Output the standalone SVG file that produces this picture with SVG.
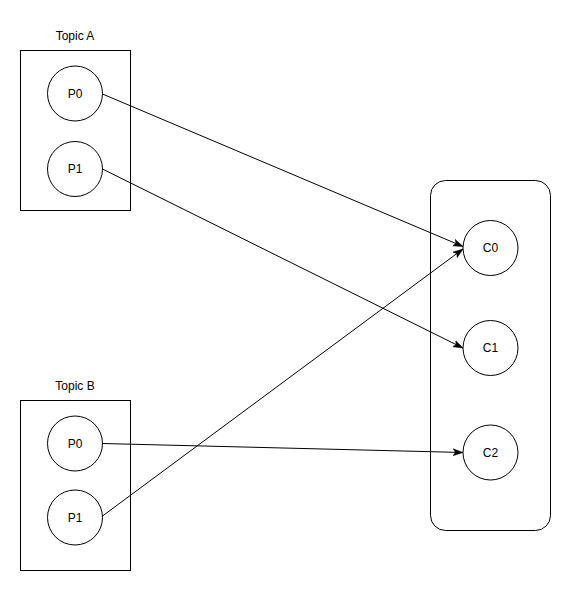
<svg xmlns="http://www.w3.org/2000/svg" width="571" height="591" viewBox="0 0 571 591">
<style>
.box{fill:#fff;stroke:#000;stroke-width:1}
.node{fill:#fff;stroke:#000;stroke-width:1}
.lbl{font-family:"Liberation Sans",Arial,sans-serif;font-size:12px;fill:#000;text-anchor:middle}
.edge{fill:none;stroke:#000;stroke-width:1}
</style>
<defs>
<marker id="arr" markerWidth="10" markerHeight="8" refX="10" refY="4" orient="auto" markerUnits="userSpaceOnUse">
<path d="M0,0.5 L10,4 L0,7.5 L2.5,4 z" fill="#000" stroke="#000" stroke-width="0.5"/>
</marker>
</defs>
<rect width="571" height="591" fill="#fff"/>
<g id="topicA">
<rect class="box" x="20.5" y="50.5" width="110" height="160"/>
<text class="lbl" x="75" y="40">Topic A</text>
</g>
<g id="topicA-P0">
<circle class="node" cx="75" cy="93.5" r="27.5"/>
<text class="lbl" x="75" y="97.5">P0</text>
</g>
<g id="topicA-P1">
<circle class="node" cx="75" cy="169" r="27.5"/>
<text class="lbl" x="75" y="173">P1</text>
</g>
<g id="topicB">
<rect class="box" x="20.5" y="400.5" width="110" height="170"/>
<text class="lbl" x="75" y="390">Topic B</text>
</g>
<g id="topicB-P0">
<circle class="node" cx="75" cy="443.5" r="27.5"/>
<text class="lbl" x="75" y="447.5">P0</text>
</g>
<g id="topicB-P1">
<circle class="node" cx="75" cy="517.5" r="27.5"/>
<text class="lbl" x="75" y="521.5">P1</text>
</g>
<g id="group">
<rect class="box" x="430.5" y="180.5" width="120" height="350" rx="15" ry="15"/>
</g>
<g id="C0">
<circle class="node" cx="490.5" cy="248" r="27.5"/>
<text class="lbl" x="490.5" y="252">C0</text>
</g>
<g id="C1">
<circle class="node" cx="490.5" cy="348" r="27.5"/>
<text class="lbl" x="490.5" y="352">C1</text>
</g>
<g id="C2">
<circle class="node" cx="490.5" cy="452.5" r="27.5"/>
<text class="lbl" x="490.5" y="456.5">C2</text>
</g>
<g id="connectors">
<path class="edge" d="M102.5,94 L463,246.5" marker-end="url(#arr)"/>
<path class="edge" d="M102.5,169 L463,348" marker-end="url(#arr)"/>
<path class="edge" d="M102.5,443.5 L463,452.5" marker-end="url(#arr)"/>
<path class="edge" d="M102.5,516 L463,249" marker-end="url(#arr)"/>
</g>
</svg>
